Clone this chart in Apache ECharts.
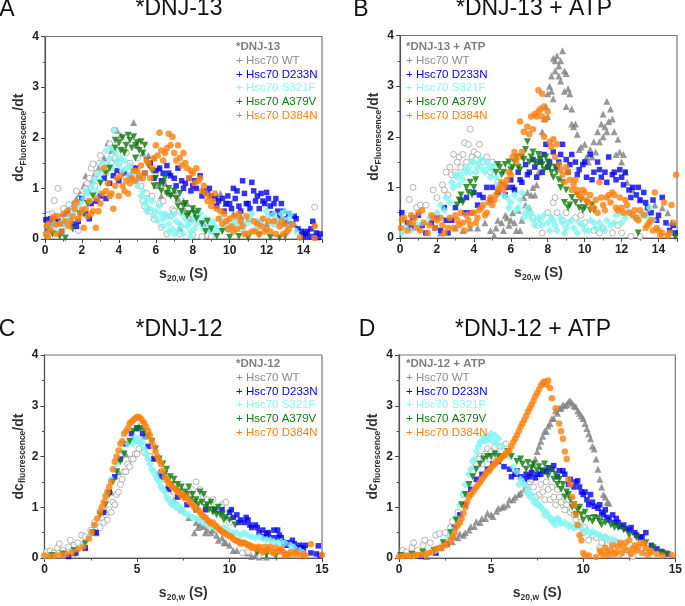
<!DOCTYPE html>
<html><head><meta charset="utf-8">
<style>html,body{margin:0;padding:0;background:#fff}#c{width:685px;height:606px}</style>
<script src="https://cdn.jsdelivr.net/npm/echarts@6/dist/echarts.min.js"></script>
</head><body><div id="c"></div>
<script>
const seriesNames=['DNJ alone','Hsc70 WT','Hsc70 D233N','Hsc70 S321F','Hsc70 A379V','Hsc70 D384N'];
const A_dnj=[[.1,.3],[.3,.38],[.5,.42],[.7,.35],[.9,.45],[1.1,.5],[1.3,.6],[1.5,.7],[1.7,.8],[1.9,.9],[2.1,1.05],[2.2,1.25],[2.3,1],[2.5,1.15],[2.7,1.3],[2.9,1.4],[3.2,1.6],[3.4,1.9],[3.6,1.75],[3.9,2.15],[4.1,2.05],[4.3,1.8],[4.8,2.3],[5,1.85],[5.3,1.7],[5.6,1.65],[5.9,1.6],[6.2,1.4],[6.5,1.1],[6.8,.9],[7,.95],[7.2,.8],[7.5,.75],[7.7,.7],[8,.6],[8.2,.5],[8.6,.3],[9,.2],[7.3,.22],[9.3,.85],[9.5,.9],[9.8,.7],[10.2,.5],[10.6,.45],[11,.4],[11.5,.35],[12,.3],[12.5,.35],[13,.3],[13.5,.3],[14,.15],[14.6,.3],[6,1.05],[6.3,.85],[6.6,.95],[7.6,.55],[7.9,.4]];
const A_wt=[[.2,.48],[.4,.5],[.5,.76],[.7,1],[.8,.4],[1,.6],[1.3,.68],[1.5,.55],[1.7,.95],[1.8,.17],[2,.85],[2.2,1],[2.3,1.1],[2.5,1.4],[2.6,1.48],[2.8,1.3],[2.95,1.5],[3,1.65],[3.3,1.3],[3.5,1.88],[3.6,1.5],[3.75,2.15],[4,1.5],[4.2,1.85],[4.4,1.7],[4.6,1.5],[5,1.6],[5,1.2],[5.3,.75],[5.4,.65],[5.5,.9],[5.7,.55],[5.9,.4],[6.2,.7],[6.3,.23],[6.6,.1],[6.9,.58],[7,.55],[7.3,.1],[8,.08],[8.5,.05],[8.8,.08],[9,.06],[11,.1],[12.4,.3],[14.6,.63],[2.4,1.2],[2.7,1.05],[3.1,1.45],[3.8,1.6],[4.8,1.4],[5.2,1.05],[5.8,.85],[6.4,.75],[6.8,.45]];
const A_blue=[[.05,.38],[.2,.2],[.4,.3],[.7,.35],[1,.3],[1.2,.5],[1.5,.3],[1.8,.35],[2,.8],[2.2,.5],[2.5,.7],[2.8,.75],[3,.85],[3.2,1.2],[3.3,.8],[3.5,1.1],[3.7,1.25],[3.9,1.35],[4,1.15],[4.3,1.3],[4.6,1.25],[4.9,1.4],[5.1,1.2],[5.4,1.3],[5.7,1.5],[6,1.35],[6.2,1.4],[6.4,1.3],[6.6,1.45],[6.8,1.25],[7,1.2],[7.2,1.4],[7.4,1.15],[7.6,1.1],[7.8,1.2],[8,1.05],[8.2,1],[8.4,1.25],[8.6,.95],[8.8,.9],[9,.85],[9.2,.8],[9.4,.75],[9.6,.8],[9.8,.7],[10,.7],[10.2,1],[10.3,.8],[10.5,.65],[10.7,1.15],[10.8,.9],[11,.7],[11.2,1.12],[11.4,.75],[11.5,.85],[11.7,.9],[11.9,.7],[12,.92],[12.2,.65],[12.4,.7],[12.6,.55],[12.8,.7],[13,.4],[13.2,.5],[13.5,.45],[13.7,.2],[13.9,.15],[14.1,.1],[14.3,.05],[14.5,.35],[14.7,.12],[14.9,.1],[14.6,.05],[14,.05],[.3,.4],[.9,.15],[1.7,.25],[2.4,.4],[5.9,1.2],[6.3,1.15],[6.7,1.3],[7.1,1.05],[7.5,1],[7.9,.95],[8.1,1.15],[8.5,.85],[8.9,1],[9.3,.65],[9.7,.55],[9.9,.85],[10.1,.6],[10.4,.95],[10.6,.55],[10.9,.7],[11.1,.6],[11.3,.95],[11.6,.6],[11.8,.75],[12.1,.8],[12.3,.5],[12.5,.8],[12.7,.45],[12.9,.55],[13.1,.3],[13.4,.3],[13.6,.4],[14.2,.15],[14.4,.2],[14.8,.03]];
const A_cyan=[[.1,.1],[.3,.2],[.5,.3],[.8,.3],[1,.35],[1.3,.45],[1.6,.55],[1.9,.7],[2.1,.8],[2.3,.9],[2.5,1],[2.7,1.2],[2.9,1.3],[3.1,1.5],[3.3,1.75],[3.5,1.6],[3.75,2.15],[3.9,1.55],[4.1,1.6],[4.4,1.4],[4.6,1.45],[4.9,1.3],[5.1,1.2],[5.3,.95],[5.5,.8],[5.6,.6],[5.8,.75],[6,.55],[6.2,.65],[6.4,.4],[6.5,.5],[6.7,.3],[6.8,.45],[7,.1],[7.1,.35],[7.3,.3],[7.4,.5],[7.5,.1],[7.7,.25],[7.9,.05],[8,.4],[8.2,.3],[8.4,.5],[8.6,.2],[8.8,.35],[9,.15],[9.2,.25],[9.5,.4],[9.8,.25],[10,.15],[10.3,.35],[10.6,.2],[10.9,.3],[11.2,.5],[11.5,.35],[11.8,.4],[12,.55],[12.3,.3],[12.5,.4],[12.8,.5],[13,.55],[13.2,.4],[13.4,.3],[13.6,.15],[.2,.25],[.6,.15],[1.1,.25],[1.4,.4],[1.7,.65],[2,.55],[2.2,.95],[2.4,.75],[2.6,1.1],[2.8,.95],[3,1.15],[3.2,1.35],[3.4,1.45],[3.6,1.4],[3.6,1.8],[3.8,1.7],[4,1.45],[4.2,1.35],[4.3,1.55],[4.5,1.25],[4.7,1.3],[4.8,1.15],[5,1.05],[5.2,.85],[5.4,.7],[5.5,.55],[5.7,.6],[5.9,.45],[6.1,.35],[6.3,.5],[6.4,.25],[6.6,.45],[6.7,.15],[6.9,.2],[7,.5],[7.2,.15],[7.4,.25],[7.6,.4],[7.8,.3],[7.9,.15],[8.1,.2],[8.3,.45],[8.5,.3],[8.7,.4],[8.9,.25],[9.1,.35],[9.3,.15],[9.6,.2],[9.9,.35],[10.2,.25],[10.5,.3],[10.8,.15],[11.1,.4],[11.4,.2],[11.7,.3],[12.1,.45],[12.4,.5],[12.7,.3],[12.9,.4],[13.1,.25],[13.3,.5]];
const A_green=[[.4,.1],[.8,.05],[1.1,.02],[1.5,.2],[1.9,.5],[2.3,.7],[2.6,.85],[3,1.1],[3.3,1.3],[3.5,1.4],[3.8,1.8],[3.8,1.95],[4,1.9],[4.1,1.75],[4.2,2],[4.4,1.85],[4.5,2.05],[4.7,1.8],[4.8,2.02],[4.9,1.6],[5,1.9],[5.2,1.92],[5.3,1.7],[5.4,1.85],[5.5,1.55],[5.8,1.35],[6,1.2],[6.2,1.05],[6.4,1.1],[6.6,.9],[6.8,.85],[7,.95],[7.2,.65],[7.4,.55],[7.6,.7],[7.8,.5],[8,.6],[8.2,.4],[8.5,.3],[8.7,.15],[9,.2],[9.3,.05],[9.6,.15],[10,.03],[10.5,.05],[11,.02],[11.6,.08],[12.2,.03],[12.7,.02],[13,.05],[4.3,1.7],[4.6,1.95],[4.9,1.85],[5.1,1.75],[5.6,1.45],[5.9,1.05],[6.3,.95],[6.5,1.2],[6.7,1],[7.1,.8],[7.3,.9],[7.5,.65],[7.7,.45],[8.1,.5],[8.3,.55],[8.8,.35]];
const A_orange=[[.05,.1],[.1,.25],[.2,.3],[.3,.18],[.4,.4],[.5,.45],[.6,.1],[.6,.28],[.8,.3],[.9,.15],[1,.5],[1.1,.35],[1.2,.55],[1.3,.25],[1.5,.45],[1.6,.6],[1.7,.72],[1.8,.4],[2,.58],[2.1,.22],[2.2,.6],[2.4,.75],[2.5,.5],[2.6,.55],[2.75,.22],[2.8,.8],[3,.7],[3.1,.9],[3.2,1.4],[3.3,.95],[3.4,1.1],[3.6,.9],[3.7,.6],[3.8,1.05],[3.9,1.2],[4.1,1.25],[4.2,1.05],[4.3,.95],[4.4,1.15],[4.5,.9],[4.7,1.2],[4.8,1.35],[5,1.35],[5.2,1.45],[5.4,1.3],[5.6,1.5],[5.7,1.2],[5.9,1.6],[6,1.85],[6.1,1.65],[6.2,2.1],[6.3,1.75],[6.5,1.7],[6.7,2.08],[6.8,1.85],[6.9,2.02],[7,1.7],[7.2,1.85],[7.3,1.6],[7.5,1.7],[7.6,1.5],[7.7,1.4],[7.9,1.35],[8,1.3],[8.2,1.4],[8.3,1.15],[8.4,1.2],[8.5,.95],[8.7,.9],[8.9,.85],[9.1,.75],[9.3,.6],[9.4,.4],[9.6,.3],[9.7,.5],[9.9,.2],[10,.4],[10.2,.15],[10.3,.45],[10.5,.5],[10.7,.25],[10.9,.45],[11,.1],[11.2,.15],[11.3,.35],[11.5,.3],[11.6,.1],[11.8,.4],[12,.2],[12.2,.15],[12.4,.35],[12.7,.25],[12.9,.1],[13.1,.15],[13.2,.2],[13.4,.28],[14.6,.25],[14.6,.02],[13.8,.03],[.15,.05],[.7,.45],[1.4,.35],[1.9,.5],[2.3,.45],[2.9,.55],[3.5,.85],[4,.85],[4.6,1.1],[4.9,1.15],[5.1,1.25],[5.3,1.2],[5.5,1.55],[5.8,1.4],[6.4,1.55],[6.6,1.8],[7.1,1.55],[7.4,1.45],[7.8,1.2],[8.1,1.1],[8.6,1.05],[8.8,.75],[9,.65],[9.2,.9],[9.5,.55],[9.8,.35],[10.1,.25],[10.4,.2],[10.6,.35],[10.8,.1],[11.4,.15],[11.7,.25],[11.9,.15],[12.1,.35],[12.5,.1],[12.8,.35],[13,.3]];

const B_dnj=[[2.2,.1],[3,.2],[3.4,.15],[3.8,.2],[4.2,.2],[4.6,.3],[5.1,.05],[5.3,.35],[5.5,.3],[5.6,.15],[5.8,.4],[5.9,.25],[6.1,.5],[6.2,.3],[6.4,.55],[6.5,.15],[6.7,.8],[6.9,.9],[7,.6],[7.2,1],[7.3,.85],[7.5,1.3],[7.6,1.6],[7.7,2.1],[7.8,2.35],[7.9,2.6],[8,2.85],[8.1,3],[8.2,3.2],[8.3,3.55],[8.4,3.3],[8.5,3.6],[8.6,3.4],[8.7,3.5],[8.8,3.7],[8.9,3.3],[9,3.25],[9.1,2.95],[9.2,2.85],[9.3,2.55],[9.4,2.2],[9.5,2.25],[9.6,2.05],[9.8,1.8],[10,1.85],[10.1,1.6],[10.3,1.75],[10.4,1.6],[10.5,1.9],[10.6,1.7],[10.7,2.1],[10.8,1.9],[10.9,2.25],[11,2.45],[11.1,2.2],[11.2,2.7],[11.3,2.3],[11.4,2.55],[11.5,2.35],[11.6,2.1],[11.8,1.95],[11.9,1.7],[12,1.5],[12.1,1.65],[12.3,1.1],[12.6,.95],[13,.75],[13.4,.5],[13.8,.65],[14.2,.6],[14.5,.5],[14.7,.3],[8.2,2.9],[8.4,3.5],[8.6,3.2],[8.7,3.1],[8.9,2.9],[9,2.6],[9.3,2.25],[8,2.4],[8.3,2.75],[4.9,.15],[5.2,.2],[5.7,.45],[6,.35],[6.3,.15],[6.6,.35],[6.8,.65],[7.4,1.05],[7.1,.85],[11.2,2.1],[11,2],[11.7,1.65],[10.2,1.5],[9.7,1.75],[12.2,1.3]];
const B_wt=[[.2,.4],[.5,.76],[.7,1],[.9,.6],[1.1,.65],[1.4,.65],[1.8,.95],[2,.8],[2.3,1.05],[2.5,1.3],[2.6,.85],[2.7,1.4],[2.8,1.25],[2.9,1.65],[3,1.3],[3.1,1.5],[3.3,1.4],[3.5,1.88],[3.7,1.85],[3.8,2.15],[4,1.7],[4.2,1.65],[4.3,1.85],[4.7,1.6],[5,1.5],[7.7,.1],[8,.5],[8.3,.7],[8.4,.8],[8.5,.5],[9,.5],[9.5,.4],[10,.3],[10.5,.15],[11,.2],[11.5,.1],[12,.1],[12.5,.03],[13,.03],[2.4,.95],[3.2,1.6],[3.4,1.65],[3.6,1.5],[3.9,1.6],[4.1,1.55],[4.5,1.5],[4.9,1.3],[5.3,1.1],[7.2,.4],[7.5,.25],[8.8,.35],[9.8,.45],[10.8,.1],[11.8,.25]];
const B_blue=[[.1,.5],[.4,.3],[.7,.4],[1,.45],[1.4,.1],[1.7,.3],[2,.4],[2.2,.15],[2.4,.6],[2.6,.1],[2.8,.35],[3,.6],[3.3,.75],[3.6,.8],[3.8,.5],[4,.9],[4.2,.65],[4.5,.8],[4.7,1],[5,1],[5.3,.9],[5.5,1.05],[5.8,1],[6,1.15],[6.2,.95],[6.4,1.3],[6.6,1.1],[6.8,1.45],[7,1.3],[7.2,1.55],[7.4,1.2],[7.6,1.5],[7.8,1.65],[7.9,1.85],[8.1,1.5],[8.3,1.7],[8.5,1.4],[8.7,1.65],[8.8,1.85],[9,1.55],[9.1,1.3],[9.3,1.65],[9.5,1.5],[9.7,1.35],[9.9,1.45],[10.1,1.2],[10.3,1.65],[10.5,1.3],[10.7,1.5],[10.9,1.2],[11.1,1.3],[11.3,1.6],[11.5,1.25],[11.7,1.15],[11.9,1.35],[12.1,1.05],[12.2,1.3],[12.4,.95],[12.6,1],[12.8,.85],[13,.75],[13.2,.9],[13.4,.6],[13.6,.5],[13.9,.35],[14.2,.8],[14.4,.3],[14.6,.15],[14.8,.25],[14.9,.1],[.6,.2],[1.2,.25],[1.9,.2],[2.5,.35],[3.5,.5],[4.3,.85],[4.9,.75],[5.7,.85],[6.1,1],[6.5,1.15],[6.9,1.25],[7.3,1.4],[7.7,1.3],[8,1.4],[8.6,1.5],[9.2,1.45],[9.6,1.25],[10,1.5],[10.4,1.15],[10.8,1.35],[11.2,1.1],[11.6,1.3],[12,1.2],[12.5,.8],[12.9,1],[13.3,.7],[13.7,.75],[14,.45]];
const B_cyan=[[.1,.1],[.3,.2],[.6,.15],[.9,.25],[1.2,.3],[1.6,.4],[2,.5],[2.2,.65],[2.5,.8],[2.7,.7],[2.9,1],[3.1,1.2],[3.3,1.25],[3.5,1.35],[3.7,1.4],[3.9,1.5],[4.1,1.3],[4.3,1.45],[4.4,1.55],[4.6,1.3],[4.8,1.4],[5,1.35],[5.2,1.2],[5.5,1],[5.8,.8],[6,.7],[6.2,.85],[6.4,.6],[6.6,.9],[6.8,.5],[7,.45],[7.2,.35],[7.5,.4],[7.7,.25],[8,.3],[8.3,.35],[8.5,.15],[8.8,.3],[9,.2],[9.3,.35],[9.6,.1],[9.9,.25],[10.2,.15],[10.5,.3],[10.9,.2],[11.2,.35],[11.6,.3],[11.9,.5],[12.2,.4],[12.5,.5],[12.9,.35],[13.2,.5],[13.5,.6],[13.7,.35],[2.4,.55],[2.8,1.1],[3,1.25],[3.2,1.05],[3.4,1.15],[3.6,1.3],[3.8,1.3],[4,1.5],[4.2,1.4],[4.5,1.35],[4.7,1.5],[4.9,1.2],[5.1,1.45],[5.3,1.05],[5.6,.85],[5.9,.6],[6.3,.55],[6.5,.75],[6.7,.4],[6.9,.6],[7.1,.5],[7.3,.25],[7.6,.35],[7.8,.45],[8.1,.15],[8.2,.4],[8.4,.25],[8.7,.4],[8.9,.1],[9.1,.3],[9.4,.2],[9.7,.3],[10,.15],[10.3,.35],[10.6,.2],[10.8,.3],[11.1,.15],[11.4,.25],[11.7,.45],[12,.3],[12.3,.55],[12.7,.4],[13,.45],[13.4,.4]];
const B_green=[[3.1,.65],[3.2,.75],[3.4,.7],[3.6,1],[3.7,.9],[3.8,1.1],[4,1],[4.1,1.15],[5.2,1.3],[5.4,1.4],[5.5,1.25],[5.7,1.45],[6,1.35],[6.2,1.5],[6.4,1.4],[6.6,1.6],[6.8,1.75],[6.9,1.9],[7,1.5],[7.2,1.7],[7.4,1.45],[7.6,1.55],[7.8,1.35],[8,1.5],[8.2,1.3],[8.4,1.4],[8.6,1.15],[8.8,1.1],[9,.95],[8.9,.7],[9.1,.6],[9.3,.8],[9.5,.7],[9.7,.6],[9.9,.55],[10.1,.7],[10.3,.55],[10.5,.55],[12.9,.1],[14.9,.02],[3.3,.85],[3.9,.85],[5.3,1.45],[5.6,1.3],[5.9,1.5],[6.1,1.4],[6.3,1.6],[6.5,1.35],[6.7,1.55],[7.1,1.6],[7.3,1.5],[7.5,1.65],[7.7,1.45],[7.9,1.6],[8.1,1.4],[8.3,1.2],[8.5,1.3],[8.7,1],[9.2,.65],[9.6,.85],[9.8,.75],[10,.6],[10.4,.65]];
const B_orange=[[.05,.2],[.2,.4],[.4,.15],[.6,.45],[.7,.3],[.9,.2],[1,.5],[1.2,.55],[1.3,.3],[1.5,.1],[1.7,.45],[1.9,.2],[2,.35],[2.3,.25],[2.4,.1],[2.7,.4],[2.9,.2],[3.1,.35],[3.3,.5],[3.4,.3],[3.6,.45],[3.8,.25],[4,.5],[4.2,.4],[4.4,.6],[4.6,.45],[4.8,.7],[5,.65],[5.2,.85],[5.4,1],[5.6,.95],[5.8,1.15],[6,1.25],[6.1,1.6],[6.2,1.7],[6.4,1.6],[6.5,2.3],[6.7,2.1],[6.9,2.2],[7,2.05],[7.1,2.4],[7.3,2.45],[7.5,2.5],[7.5,2.92],[7.7,2.85],[7.8,2.6],[7.9,2.35],[8,2.5],[7.8,2],[8.1,1.9],[8.3,1.95],[8.5,1.85],[8.6,1.45],[8.8,1.25],[9,1.4],[9.2,1.15],[9.4,1.05],[9.6,.95],[9.8,.8],[10,.9],[10.2,.7],[10.4,.6],[10.6,.75],[10.8,1.1],[11,.65],[11.2,.8],[11.4,.7],[11.6,.85],[11.8,.55],[12,.6],[12.2,.75],[12.4,.5],[12.7,.55],[12.9,.35],[13.2,.45],[13.4,.25],[13.6,.35],[13.8,.9],[14,.15],[14.2,.1],[14.3,.7],[14.6,.1],[14.7,.65],[14.95,1.25],[14.8,.3],[.1,.35],[.5,.3],[.8,.4],[1.1,.15],[1.6,.25],[1.8,.4],[2.2,.4],[2.6,.2],[3,.45],[3.2,.25],[3.5,.15],[3.7,.35],[3.9,.5],[4.1,.3],[4.3,.55],[4.5,.65],[4.7,.5],[4.9,.8],[5.1,.75],[5.3,.95],[5.5,1.1],[5.7,1.05],[5.9,1.3],[6.3,1.5],[6.6,1.7],[7.2,2.15],[7.4,2.4],[7.6,2.55],[7.7,2.4],[8.2,1.8],[8.4,1.6],[8.7,1.35],[8.9,1.1],[9.1,1.3],[9.3,.95],[9.5,1.15],[9.7,.85],[9.9,.95],[10.1,.75],[10.3,.85],[10.5,.6],[10.7,.5],[10.9,.8],[11.1,.55],[11.3,.85],[11.5,.9],[11.7,.6],[11.9,.8],[12.1,.5],[12.3,.65],[12.6,.45],[12.8,.4],[13,.55],[13.3,.2],[13.5,.3],[13.7,.15],[13.9,.2],[14.1,.05],[14.5,.05]];

const C_dnj=[[.3,.05],[1,.05],[1.6,.1],[2.2,.2],[2.8,.5],[3.2,.9],[3.6,1.3],[4,1.7],[4.4,2.05],[4.8,2.35],[5.1,2.6],[5.4,2.4],[5.8,2],[6.2,1.7],[6.6,1.4],[7,1.15],[7.4,.95],[7.8,.8],[8.2,.7],[8.4,.65],[8.6,.62],[8.8,.55],[9,.5],[9.3,.45],[9.6,.4],[9.8,.3],[10,.25],[10.4,.15],[11,.1],[11.4,.05],[11.6,.02],[12,.02],[13.9,.25],[8.1,.5],[8.3,.6],[8.7,.5],[9.1,.55],[9.4,.35],[9.7,.3],[10.2,.15],[11.2,.03],[11.5,.06]];
const C_wt=[[.1,.12],[.3,.14],[.5,.1],[.7,.2],[.8,.28],[1,.15],[1.3,.22],[1.4,.35],[1.6,.25],[1.8,.3],[2,.45],[2.2,.42],[2.5,.55],[2.7,.7],[3,.6],[3.2,.7],[3.4,.75],[3.5,.95],[3.7,1.1],[3.9,1.25],[4.1,1.45],[4.3,1.7],[4.5,1.85],[4.7,1.95],[4.9,2.05],[5.1,2.15],[5.4,2.08],[5.7,2],[6.5,1.55],[7,1.3],[7.5,1.25],[8,1.35],[8.2,1.5],[8.4,1.35],[8.6,1.2],[8.9,1.05],[9.1,1.15],[9.3,.95],[9.6,1.05],[9.8,1.1],[10,.7],[10.7,.1],[11,.12],[11.6,.05],[3.1,.8],[3.3,.85],[3.6,.9],[3.8,1.05],[4,1.3],[4.2,1.55],[4.4,1.7],[4.6,1.8],[4.8,1.95],[5,2.05],[7.8,1.3],[8.8,1.15],[9,1.05],[9.5,1]];
const C_blue=[[1.3,.03],[1.7,.1],[2.2,.2],[2.8,.5],[3.2,.9],[3.5,1.3],[3.8,1.6],[4.1,1.95],[4.4,2.25],[4.7,2.45],[5,2.55],[5.3,2.45],[5.6,2.2],[5.9,1.95],[6.3,1.6],[6.7,1.35],[7.2,1.2],[7.7,1.05],[8.2,.95],[8.7,.95],[9.2,.95],[9.6,.95],[10,.9],[10.2,.8],[10.4,.85],[10.6,.75],[10.8,.7],[11,.75],[11.2,.6],[11.4,.65],[11.6,.5],[11.8,.55],[12,.48],[12.2,.4],[12.4,.55],[12.6,.55],[12.8,.4],[13,.3],[13.2,.3],[13.4,.35],[13.6,.2],[13.8,.25],[14,.18],[14.1,.25],[14.4,.1],[14.7,.08],[14.8,.24],[14.9,.05],[10.1,.95],[10.5,.7],[10.9,.8],[11.1,.65],[11.5,.6],[11.9,.42],[12.1,.5],[12.5,.4],[12.7,.45],[12.9,.32],[13.1,.25],[13.5,.28],[13.7,.15],[13.9,.2]];
const C_cyan=[[0,.05],[.5,.06],[1,.08],[1.5,.15],[2,.25],[2.4,.42],[2.7,.65],[3,.95],[3.3,1.25],[3.6,1.55],[3.9,1.85],[4.2,2.1],[4.5,2.25],[4.7,2.3],[4.9,2.38],[5.1,2.35],[5.3,2.28],[5.5,2.05],[5.7,1.85],[5.9,1.7],[6.1,1.55],[6.3,1.4],[6.5,1.3],[6.7,1.15],[6.9,1.05],[7.1,1],[7.3,.95],[7.5,.9],[7.8,.85],[8,.8],[8.4,.75],[8.8,.65],[9.2,.6],[9.5,.55],[9.9,.55],[10.2,.5],[10.6,.45],[11,.45],[11.4,.4],[11.8,.38],[12.2,.35],[12.6,.3],[13,.3],[13.3,.25],[13.5,.2],[13.8,.15],[14,.1],[4.8,2.25],[5,2.3],[5.2,2.25],[5.4,2.15],[5.6,1.95],[5.8,1.75],[6,1.62],[6.2,1.5],[6.4,1.35],[6.6,1.2],[6.8,1.1],[7,1.1],[7.2,1.05],[7.4,.98],[7.6,.88],[8.2,.78],[8.6,.7],[9,.62],[9.7,.6],[10.4,.5],[10.8,.5],[11.2,.42],[11.6,.42],[12,.36],[12.4,.32],[12.8,.32]];
const C_green=[[.4,.05],[1,.08],[1.6,.15],[2.2,.28],[2.6,.5],[3,.85],[3.3,1.05],[3.5,1.25],[3.7,1.5],[3.9,1.7],[4.1,1.9],[4.3,2.05],[4.6,2.3],[4.8,2.5],[5,2.55],[5.2,2.55],[5.4,2.5],[5.6,2.4],[5.8,2.3],[6,2.15],[6.2,1.95],[6.4,1.85],[6.6,1.75],[6.8,1.6],[7,1.55],[7.2,1.45],[7.4,1.4],[7.6,1.3],[7.8,1.4],[8,1.25],[8.2,1.15],[8.4,1.3],[8.6,1.25],[8.8,1.05],[9,1.1],[9.2,.95],[9.4,1],[9.6,.85],[9.8,.8],[10,.75],[10.3,.65],[11.5,.1],[12,.06],[12.5,.04],[13,.05],[6.5,1.65],[6.9,1.45],[7.1,1.35],[7.3,1.3],[7.5,1.2],[7.7,1.25],[7.9,1.15],[8.1,1.1],[8.3,1.05],[8.5,1.1],[8.7,1],[8.9,.95],[9.1,.9],[9.3,.85],[9.5,.85],[9.7,.75]];
const C_orange=[[0,.05],[.3,.04],[.6,.05],[.9,.07],[1.2,.08],[1.5,.12],[1.8,.17],[2.1,.22],[2.4,.38],[2.7,.65],[3,.9],[3.2,1.1],[3.4,1.3],[3.6,1.5],[3.7,1.75],[3.8,1.9],[3.9,2],[4.1,2.25],[4.2,2.3],[4.3,2.45],[4.5,2.55],[4.6,2.65],[4.8,2.72],[5,2.78],[5.2,2.75],[5.4,2.65],[5.6,2.5],[5.7,2.42],[5.9,2.2],[6.1,2],[6.3,1.85],[6.5,1.6],[6.7,1.5],[6.9,1.4],[7.1,1.35],[7.3,1.28],[7.5,1.25],[7.7,1.2],[7.9,1.1],[8.1,1],[8.3,.95],[8.5,.85],[8.7,.8],[8.9,.72],[9.1,.7],[9.3,.62],[9.5,.55],[9.7,.5],[9.9,.45],[10.1,.42],[10.3,.35],[10.5,.32],[10.7,.3],[10.9,.28],[11.1,.25],[11.3,.22],[11.5,.2],[11.7,.15],[11.9,.22],[12.1,.18],[12.3,.12],[12.5,.2],[12.7,.15],[12.9,.12],[13.1,.08],[13.3,.12],[13.5,.08],[13.8,.05],[14.1,.05],[14.4,.27],[15,.06],[2.55,.5],[2.85,.78],[3.1,1],[3.3,1.2],[3.5,1.4],[4,2.12],[4.4,2.5],[4.7,2.68],[4.9,2.75],[5.1,2.78],[5.3,2.7],[5.5,2.58],[5.8,2.3],[6,2.1],[6.2,1.92],[6.4,1.72],[6.6,1.55],[6.8,1.45],[7,1.38],[7.2,1.3],[7.4,1.22],[7.6,1.18],[7.8,1.12],[8,1.05],[8.2,.95],[8.4,.9],[8.6,.82],[8.8,.75],[9,.68],[9.2,.65],[9.4,.58],[9.6,.52],[9.8,.48],[10,.44],[10.2,.38],[10.4,.34],[10.6,.28],[10.8,.3],[11,.25],[11.2,.2],[11.4,.18],[11.6,.22],[11.8,.12],[12,.15],[12.2,.22],[12.4,.1],[12.6,.12],[12.8,.18],[13,.05],[13.2,.06],[13.6,.12],[14,.08]];

const D_dnj=[[1.5,.03],[2,.12],[2.3,.2],[2.6,.28],[2.9,.32],[3.2,.4],[3.5,.45],[3.8,.55],[4.1,.62],[4.4,.7],[4.7,.78],[5,.85],[5.3,.92],[5.6,1],[5.9,1.05],[6.2,1.15],[6.5,1.25],[6.8,1.35],[7,1.55],[7.2,1.75],[7.4,1.95],[7.6,2.2],[7.8,2.4],[8,2.5],[8.2,2.65],[8.4,2.75],[8.6,2.85],[8.8,2.95],[9,3],[9.2,3.08],[9.4,3.05],[9.6,2.98],[9.8,2.85],[10,2.75],[10.2,2.55],[10.4,2.35],[10.6,2.15],[10.7,1.95],[10.8,1.75],[10.9,1.55],[11,1.4],[11.2,1.2],[11.4,1.08],[3,.42],[3.3,.48],[3.6,.5],[3.9,.62],[4.2,.72],[4.5,.78],[4.8,.88],[5.1,.82],[5.4,.98],[5.7,1.02],[6,1.15],[6.3,1.2],[6.6,1.28],[6.9,1.45],[7.1,1.65],[7.3,1.85],[7.5,2.1],[7.7,2.3],[7.9,2.5],[8.1,2.6],[8.3,2.75],[8.5,2.9],[8.7,2.95],[8.9,3.02],[9.1,3.02],[9.3,3.1],[9.5,3],[9.7,2.9],[9.9,2.8],[10.1,2.65],[10.3,2.45],[10.5,2.2],[11.1,1.25],[11.3,1.1]];
const D_wt=[[.2,.15],[.4,.12],[.7,.2],[.8,.3],[1,.15],[1.3,.25],[1.4,.35],[1.7,.3],[2,.45],[2.2,.48],[2.5,.5],[2.8,.6],[2.9,.72],[3.2,.9],[3.5,1.25],[3.8,1.45],[4,1.7],[4.2,1.85],[4.4,2],[4.6,2],[4.8,2.15],[5,2.1],[5.2,2.18],[5.5,2.2],[5.8,2.25],[6.9,1.45],[7.1,1.5],[7.3,1.4],[7.5,1.6],[7.6,1.25],[7.8,1.3],[8,1.5],[8.2,1.15],[8.3,1.4],[8.5,1.05],[8.7,1.2],[8.9,1.05],[9,.95],[9.3,.9],[9.5,.85],[9.8,.7],[10,.5],[10.3,.35],[10.7,.4],[11,.3],[11.3,.25],[11.6,.3],[12,.08],[12.7,.03],[7,1.3],[7.2,1.55],[7.4,1.2],[7.7,1.45],[7.9,1.15],[8.1,1.35],[8.4,1.2],[8.6,1.35],[8.8,1.1],[9.1,1.05],[9.2,1.15],[9.4,.95],[9.6,.75],[10.1,.6],[10.5,.45],[10.9,.2],[11.2,.4],[4.3,1.95],[4.5,1.85],[4.7,2.05],[4.9,1.95],[5.1,2],[5.3,2.05]];
const D_blue=[[1.2,.03],[2,.1],[2.6,.28],[3,.6],[3.3,.85],[3.6,1.05],[3.9,1.35],[4.2,1.55],[4.5,1.65],[4.8,1.75],[5.1,1.85],[5.4,1.9],[5.7,1.8],[6,1.75],[6.3,1.65],[6.6,1.6],[6.9,1.65],[7.2,1.68],[7.5,1.65],[7.8,1.72],[8.1,1.78],[8.4,1.82],[8.7,1.72],[9,1.65],[9.3,1.55],[9.6,1.5],[9.8,1.4],[10,1.25],[10.2,1.15],[10.5,1.1],[10.8,.98],[11,.9],[11.3,.8],[11.6,.85],[11.9,.7],[12.2,.65],[12.5,.55],[12.8,.5],[13.2,.42],[13.4,.5],[13.7,.25],[14,.18],[14.3,.12],[14.6,.08],[6.1,1.6],[6.4,1.72],[6.8,1.55],[7.1,1.6],[7.4,1.58],[7.7,1.65],[8,1.7],[8.3,1.75],[8.6,1.6],[8.9,1.72],[9.2,1.45],[9.5,1.4],[9.7,1.52],[9.9,1.3],[10.1,1.3],[10.3,1.05],[10.4,1.25],[10.6,1.02],[10.9,1.05],[11.1,.85],[11.2,.95],[11.4,.75],[11.7,.7],[11.8,.78],[12,.62],[12.3,.58],[12.6,.6],[12.9,.45],[13.1,.4]];
const D_cyan=[[.2,.05],[.8,.05],[1.4,.08],[2,.15],[2.4,.28],[2.7,.42],[2.9,.55],[3.1,.8],[3.3,1.05],[3.5,1.25],[3.6,1.45],[3.8,1.65],[4,1.9],[4.2,2.1],[4.4,2.28],[4.6,2.38],[4.8,2.4],[5,2.45],[5.2,2.42],[5.4,2.35],[5.6,2.2],[5.8,2.1],[6,2],[6.2,1.8],[6.4,1.7],[6.6,1.55],[6.8,1.45],[7,1.35],[7.2,1.25],[7.4,1.15],[7.6,1.05],[7.8,.95],[8,.9],[8.2,.8],[8.4,.75],[8.5,.65],[8.7,.75],[9,.7],[9.3,.65],[9.6,.62],[9.9,.58],[10.2,.55],[10.5,.52],[10.9,.45],[11.2,.42],[11.5,.38],[11.8,.32],[12.1,.28],[12.5,.2],[12.9,.15],[13.3,.12],[3.9,1.75],[4.1,1.95],[4.3,2.2],[4.5,2.3],[4.7,2.3],[4.9,2.35],[5.1,2.3],[5.3,2.25],[6.5,1.45],[6.7,1.5],[6.9,1.3],[7.1,1.2],[7.3,1.1],[7.5,1.05],[7.7,1],[7.9,.85],[8.1,.82],[8.3,.72],[8.6,.78],[8.8,.68],[9.2,.62],[9.5,.58],[9.8,.65],[10.1,.5],[10.4,.48],[10.7,.48],[11,.42],[11.3,.36],[11.7,.35]];
const D_green=[[.1,.05],[.7,.07],[1.3,.12],[1.9,.15],[2.4,.3],[2.8,.5],[3.1,.75],[3.4,1.05],[3.6,1.25],[3.8,1.45],[4,1.6],[4.2,1.75],[4.4,1.85],[4.6,1.95],[4.8,2],[5,2],[5.2,2.05],[5.4,2],[5.6,1.98],[5.9,2.1],[6.1,2],[6.4,1.9],[6.7,1.85],[7,1.88],[7.3,1.85],[7.6,1.8],[7.9,1.85],[8.2,1.75],[8.5,1.65],[8.7,1.55],[8.9,1.45],[9.1,1.3],[9.3,1.15],[9.5,1.05],[9.7,.95],[9.9,.85],[10.1,.9],[10.3,.78],[10.6,.8],[10.9,.72],[11.2,.7],[11.5,.65],[11.9,.6],[12.2,.55],[12.5,.45],[12.9,.4],[13.4,.3],[13.8,.2],[14.2,.12],[14.5,.08],[6.6,1.95],[6.9,1.75],[7.2,1.78],[7.5,1.72],[7.8,1.72],[8.1,1.62],[8.4,1.55],[8.6,1.45],[8.8,1.35],[9,1.2],[9.2,1.25],[9.4,1],[9.6,.85],[9.8,1],[10,.75],[10.5,.72],[10.8,.78],[11,.65],[11.7,.6]];
const D_orange=[[0,.03],[.4,.05],[.8,.05],[1.2,.06],[1.6,.1],[2,.18],[2.3,.2],[2.6,.28],[2.9,.42],[3.1,.6],[3.3,.7],[3.5,.88],[3.7,1.1],[3.9,1.25],[4.1,1.35],[4.3,1.45],[4.5,1.55],[4.7,1.65],[4.9,1.72],[5.1,1.82],[5.3,1.9],[5.5,1.95],[5.7,2.02],[5.9,2.1],[6.1,2.2],[6.3,2.35],[6.5,2.5],[6.7,2.65],[6.9,2.8],[7.1,2.95],[7.3,3.1],[7.5,3.25],[7.7,3.4],[7.9,3.48],[8.1,3.5],[8.2,3.35],[8.3,3.15],[8.5,2.95],[8.7,2.65],[8.8,2.5],[8.9,2.35],[9,2.1],[9.1,1.95],[9.2,1.55],[9.3,1.45],[9.4,1.2],[9.5,1.05],[9.6,.85],[9.7,.65],[9.8,.45],[9.9,.35],[10,.1],[10.1,.05],[10.3,.05],[10.7,.02],[11,.1],[11.2,.2],[11.4,.06],[11.6,.25],[11.8,.12],[12,.3],[12.1,.1],[12.3,.3],[12.5,.35],[12.6,.08],[12.8,.25],[12.9,.15],[13.1,.3],[13.2,.1],[13.4,.2],[13.5,.06],[13.7,.12],[14,.08],[14.3,.05],[14.8,.06],[.2,.04],[.6,.04],[1,.06],[1.4,.07],[1.8,.12],[2.2,.2],[2.5,.25],[2.8,.35],[3,.5],[3.2,.65],[3.4,.78],[3.6,1],[3.8,1.2],[4,1.3],[4.2,1.4],[4.4,1.5],[4.6,1.6],[4.8,1.7],[5,1.78],[5.2,1.85],[5.4,1.92],[5.6,2],[5.8,2.05],[6,2.12],[6.2,2.28],[6.4,2.42],[6.6,2.58],[6.8,2.72],[7,2.88],[7.2,3.02],[7.4,3.18],[7.6,3.32],[7.8,3.45],[8,3.42],[10.9,.15],[11.1,.05],[11.3,.12],[11.5,.15],[11.7,.08],[11.9,.22],[12.2,.2],[12.4,.15],[12.7,.18],[13,.22],[13.3,.28],[13.6,.15]];

const panelData=[[A_dnj,A_wt,A_blue,A_cyan,A_green,A_orange],[B_dnj,B_wt,B_blue,B_cyan,B_green,B_orange],[C_dnj,C_wt,C_blue,C_cyan,C_green,C_orange],[D_dnj,D_wt,D_blue,D_cyan,D_green,D_orange]];
const xTicks=[[0,15,2],[0,15,2],[0,15,5],[0,15,5]];
const yTicks=[0,4,1];
const titles=['*DNJ-13','*DNJ-13 + ATP','*DNJ-12','*DNJ-12 + ATP'];
const letters=['A','B','C','D'];
const legendHead=['*DNJ-13','*DNJ-13 + ATP','*DNJ-12','*DNJ-12 + ATP'];
const legendLabels=['+ Hsc70 WT','+ Hsc70 D233N','+ Hsc70 S321F','+ Hsc70 A379V','+ Hsc70 D384N'];
const yNames=['dc{s|Fluorescence}/dt','dc{s|Fluorescence}/dt','dc{s|fluorescence}/dt','dc{s|fluorescence}/dt'];

const grids=[{left:45,top:36.5,width:277,height:202.5},{left:400,top:35.5,width:277,height:202.5},{left:44.5,top:355,width:277.5,height:203},{left:399,top:355,width:277.5,height:203}];
const legendPos=[[236,47],[406,47],[236,364],[406,364]];
const titlePos=[[179,9],[534,9],[179,330],[533,330]];
const letterPos=[[7,10],[361,10],[7,330],[367,330]];
const colors=['#7f7f7f','#8c8c8c','#0000f0','#7ff5f0','#0b7a0b','#ff7f0e'];
const legendColors=['#7f7f7f','#8c8c8c','#0000f0','#8ff7f2','#0b7a0b','#ff7f0e'];
const symbols=['triangle','circle','rect','diamond','triangle','circle'];
const sizes=[7,6,5.5,8,7,6.5];
const rotate=[0,0,0,0,180,0];

const series=[],graphic=[],xAxis=[],yAxis=[];
const font='"Liberation Sans",Arial,sans-serif';
const axisCommon={axisLine:{show:true,onZero:false,lineStyle:{color:'#555',width:1.2}},axisTick:{show:true,length:4,lineStyle:{color:'#444',width:1}},minorTick:{show:true,splitNumber:2,length:2.5,lineStyle:{color:'#555'}},splitLine:{show:false},minorSplitLine:{show:false}};
const nameRich={s:{fontSize:8.5,fontWeight:'bold',color:'#333',verticalAlign:'bottom',padding:[8,0,0,0],fontFamily:font}};
panelData.forEach((p,i)=>{
  xAxis.push({...axisCommon,type:'value',gridIndex:i,min:xTicks[i][0],max:xTicks[i][1],interval:xTicks[i][2],
    axisLabel:{color:'#222',fontWeight:'bold',fontSize:12,fontFamily:font,margin:6,showMaxLabel:i>=2},
    name:'s{s|20,w} (S)',nameLocation:'middle',nameGap:27,
    nameTextStyle:{color:'#333',fontWeight:'bold',fontSize:14,fontFamily:font,rich:nameRich}});
  yAxis.push({...axisCommon,type:'value',gridIndex:i,min:yTicks[0],max:yTicks[1],interval:yTicks[2],
    axisLabel:{color:'#222',fontWeight:'bold',fontSize:12,fontFamily:font,margin:6},
    name:yNames[i],nameLocation:'middle',nameGap:17,nameRotate:90,
    nameTextStyle:{color:'#333',fontWeight:'bold',fontSize:14,fontFamily:font,rich:nameRich}});
  p.forEach((d,j)=>{
    series.push({name:seriesNames[j],type:'scatter',xAxisIndex:i,yAxisIndex:i,data:d,symbol:symbols[j],symbolSize:sizes[j],symbolRotate:rotate[j],
      clip:true,silent:true,animation:false,z:2+j,
      itemStyle:j===1?{color:'#fff',borderColor:'#8c8c8c',borderWidth:.8}:{color:colors[j]}});
  });
  const [lx,ly]=legendPos[i];
  graphic.push({type:'text',x:lx,y:ly,style:{text:legendHead[i],fill:colors[0],font:'bold 11.5px '+font,textVerticalAlign:'middle'}});
  legendLabels.forEach((t,k)=>graphic.push({type:'text',x:lx,y:ly+13.7*(k+1),style:{text:t,fill:legendColors[k+1],font:'11.5px '+font,textVerticalAlign:'middle'}}));
  graphic.push({type:'text',x:titlePos[i][0],y:titlePos[i][1],style:{text:titles[i],fill:'#111',font:'23px '+font,textAlign:'center',textVerticalAlign:'middle'}});
  graphic.push({type:'text',x:letterPos[i][0],y:letterPos[i][1],style:{text:letters[i],fill:'#111',font:'23px '+font,textAlign:'center',textVerticalAlign:'middle'}});
});
const chart=echarts.init(document.getElementById('c'),null,{renderer:'canvas'});
chart.setOption({animation:false,backgroundColor:'#fff',
  grid:grids.map(g=>({...g,show:true,borderColor:'#777',borderWidth:1.2,backgroundColor:'#fff'})),
  xAxis,yAxis,series,graphic:{elements:graphic.map(g=>({...g,z:50}))}});
</script></body></html>
